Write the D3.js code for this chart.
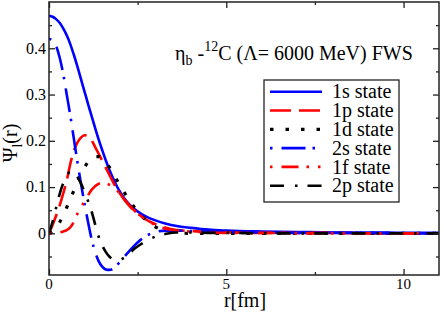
<!DOCTYPE html>
<html>
<head>
<meta charset="utf-8">
<script src="https://cdn.jsdelivr.net/npm/d3@7"></script>
<style>
  body { margin: 0; background: #fff; }
</style>
</head>
<body>
<div id="chart"></div>
<script>
// r grid (fm)
const rGrid = [0, 0.1, 0.2, 0.3, 0.4, 0.5, 0.6, 0.7, 0.8, 0.9, 1.0, 1.1, 1.2, 1.3, 1.4, 1.5, 1.6, 1.7, 1.8, 1.9, 2.0,
    2.2, 2.4, 2.6, 2.8, 3.0, 3.3, 3.6, 4, 4.5, 5, 6, 7, 8, 9, 10, 11];

// wave functions
const psi1s = [0.470, 0.468, 0.463, 0.455, 0.443, 0.428, 0.409, 0.386, 0.361, 0.334, 0.307, 0.280, 0.254, 0.228, 0.203, 0.180, 0.158, 0.138, 0.120, 0.104, 0.090,
    0.068, 0.053, 0.042, 0.034, 0.028, 0.021, 0.016, 0.012, 0.008, 0.006, 0.004, 0.003, 0.002, 0.002, 0.001, 0.001];
const psi1p = [0, 0.018, 0.038, 0.060, 0.086, 0.114, 0.150, 0.178, 0.196, 0.207, 0.212, 0.210, 0.201, 0.187, 0.172, 0.157, 0.142, 0.127, 0.112, 0.098, 0.086,
    0.065, 0.049, 0.037, 0.027, 0.020, 0.012, 0.007, 0.005, 0.003, 0.002, 0.001, 0.001, 0.001, 0, 0, 0];
const psi1d = [0, 0.003, 0.011, 0.024, 0.039, 0.056, 0.074, 0.092, 0.110, 0.127, 0.142, 0.154, 0.162, 0.166, 0.166, 0.162, 0.154, 0.143, 0.130, 0.117, 0.104,
    0.079, 0.057, 0.039, 0.024, 0.014, 0.005, 0.001, 0, 0, 0, 0, 0, 0, 0, 0, 0];
const psi2s = [0.420, 0.417, 0.405, 0.380, 0.345, 0.300, 0.255, 0.205, 0.155, 0.108, 0.065, 0.025, -0.012, -0.040, -0.060, -0.072, -0.078, -0.079, -0.077, -0.070, -0.062,
    -0.044, -0.027, -0.013, -0.003, 0.003, 0.006, 0.006, 0.005, 0.004, 0.003, 0.002, 0.001, 0.001, 0.001, 0, 0];
const psi1f = [0, 0, 0.001, 0.002, 0.004, 0.007, 0.013, 0.025, 0.042, 0.056, 0.069, 0.082, 0.094, 0.102, 0.107, 0.109, 0.108, 0.105, 0.100, 0.094, 0.086,
    0.067, 0.050, 0.037, 0.026, 0.018, 0.010, 0.006, 0.004, 0.002, 0.001, 0.001, 0, 0, 0, 0, 0];
const psi2p = [0, 0.025, 0.055, 0.085, 0.108, 0.124, 0.133, 0.132, 0.122, 0.108, 0.090, 0.070, 0.048, 0.020, -0.007, -0.026, -0.040, -0.050, -0.056, -0.058, -0.057,
    -0.048, -0.034, -0.023, -0.014, -0.007, -0.001, 0.002, 0.002, 0.001, 0.001, 0, 0, 0, 0, 0, 0];

const stateNames = ["1s state", "1p state", "1d state", "2s state", "1f state", "2p state"];
const stateValues = [psi1s, psi1p, psi1d, psi2s, psi1f, psi2p];

// ticks
const xMajor = [0, 5, 10];
const xMinor = [2.5, 7.5];
const yMajor = [0, 0.1, 0.2, 0.3, 0.4];
const yMinor = [-0.05, 0.05, 0.15, 0.25, 0.35, 0.45];

// line styles
const styles = [
    {color: "#0000ff", dash: null, offset: 0, w: 2.6},
    {color: "#ff0000", dash: "21,8", offset: 0, w: 2.6},
    {color: "#000000", dash: "3.5,12", offset: 0, w: 3.2},
    {color: "#0000ff", dash: "2.5,9,24,7", offset: 0, w: 2.6},
    {color: "#ff0000", dash: "17,8,2.5,9,2.5,9", offset: 36.5, w: 2.6},
    {color: "#000000", dash: "14,11,2.5,10", offset: 0, w: 2.6}
];

const FONT = "Liberation Serif";

const W = 444, H = 312;
const margin = {top: 2, right: 5, bottom: 37, left: 49};
const width = W - margin.left - margin.right,
    height = H - margin.top - margin.bottom;

const svg = d3.select('#chart').append('svg')
    .attr("width", W)
    .attr("height", H)
    .style("display", "block");

const g = svg.append("g")
    .attr("transform", "translate(" + margin.left + "," + margin.top + ")");

const x = d3.scaleLinear().domain([0, 11]).range([0, width]);
const y = d3.scaleLinear().domain([-0.09, 0.5]).range([height, 0]);

g.append("clipPath").attr("id", "clip")
    .append("rect").attr("width", width).attr("height", height);

// curves
const line = d3.line()
    .x(d => x(d[0]))
    .y(d => y(d[1]))
    .curve(d3.curveMonotoneX);

const curves = g.append("g").attr("clip-path", "url(#clip)");
stateValues.forEach((vals, i) => {
    const pts = rGrid.map((r, k) => [r, vals[k]]);
    curves.append("path")
        .datum(pts)
        .attr("d", line)
        .attr("fill", "none")
        .attr("stroke", styles[i].color)
        .attr("stroke-width", styles[i].w)
        .attr("stroke-dasharray", styles[i].dash)
        .attr("stroke-dashoffset", styles[i].offset);
});

// axes: ticks inside, mirrored on all four sides
const axes = [
    g.append("g").attr("transform", "translate(0," + height + ")")
        .call(d3.axisTop(x).tickValues(xMajor).tickSize(6).tickFormat("")),
    g.append("g").attr("transform", "translate(0," + height + ")")
        .call(d3.axisTop(x).tickValues(xMinor).tickSize(3).tickFormat("")),
    g.append("g").call(d3.axisBottom(x).tickValues(xMajor).tickSize(6).tickFormat("")),
    g.append("g").call(d3.axisBottom(x).tickValues(xMinor).tickSize(3).tickFormat("")),
    g.append("g").call(d3.axisRight(y).tickValues(yMajor).tickSize(6).tickFormat("")),
    g.append("g").call(d3.axisRight(y).tickValues(yMinor).tickSize(3).tickFormat("")),
    g.append("g").attr("transform", "translate(" + width + ",0)")
        .call(d3.axisLeft(y).tickValues(yMajor).tickSize(6).tickFormat("")),
    g.append("g").attr("transform", "translate(" + width + ",0)")
        .call(d3.axisLeft(y).tickValues(yMinor).tickSize(3).tickFormat(""))
];
axes.forEach(a => {
    a.select(".domain").remove();
    a.selectAll("line").attr("stroke", "#222").attr("stroke-width", 1.3);
});

// tick labels
g.append("g").selectAll("text").data(xMajor).join("text")
    .attr("x", d => x(d))
    .attr("y", height + 14)
    .attr("text-anchor", "middle")
    .attr("font-size", 15)
    .text(d => d);
g.append("g").selectAll("text").data(yMajor).join("text")
    .attr("x", -3)
    .attr("y", d => y(d))
    .attr("dy", "0.33em")
    .attr("text-anchor", "end")
    .attr("font-size", 16)
    .text(d => d3.format("")(d));

// frame
g.append("rect")
    .attr("width", width).attr("height", height)
    .attr("fill", "none")
    .attr("stroke", "#222")
    .attr("stroke-width", 1.5);

// axis titles
svg.append("text")
    .attr("x", 245).attr("y", 307)
    .attr("text-anchor", "middle")
    .attr("font-size", 20)
    .text("r[fm]");

const yl = svg.append("text")
    .attr("transform", "translate(17,143) rotate(-90)")
    .attr("text-anchor", "middle")
    .attr("font-size", 20);
yl.append("tspan").text("Ψ");
yl.append("tspan").attr("dy", 5).attr("font-size", 14).text("l");
yl.append("tspan").attr("dy", -5).text("(r)");

// title
const tt = svg.append("text")
    .attr("x", 175).attr("y", 60)
    .attr("font-size", 20);
tt.append("tspan").text("η");
tt.append("tspan").attr("dy", 5).attr("font-size", 14).text("b");
tt.append("tspan").attr("dy", -5).text(" -");
tt.append("tspan").attr("dy", -9).attr("font-size", 14).text("12");
tt.append("tspan").attr("dy", 9).text("C (Λ= 6000 MeV) FWS");

// legend
const leg = svg.append("g");
leg.append("rect")
    .attr("x", 264).attr("y", 80)
    .attr("width", 135).attr("height", 122)
    .attr("fill", "#fff")
    .attr("stroke", "#222")
    .attr("stroke-width", 1.3);
stateNames.forEach((name, i) => {
    const yy = 91.7 + i * 18.8;
    leg.append("line")
        .attr("x1", 270).attr("x2", 322)
        .attr("y1", yy).attr("y2", yy)
        .attr("stroke", styles[i].color)
        .attr("stroke-width", styles[i].w)
        .attr("stroke-dasharray", styles[i].dash)
        .attr("stroke-dashoffset", styles[i].offset);
    leg.append("text")
        .attr("x", 332).attr("y", yy)
        .attr("dy", "0.33em")
        .attr("font-size", 20)
        .text(name);
});

// serif everywhere
svg.selectAll("text").attr("font-family", FONT);
</script>
</body>
</html>
